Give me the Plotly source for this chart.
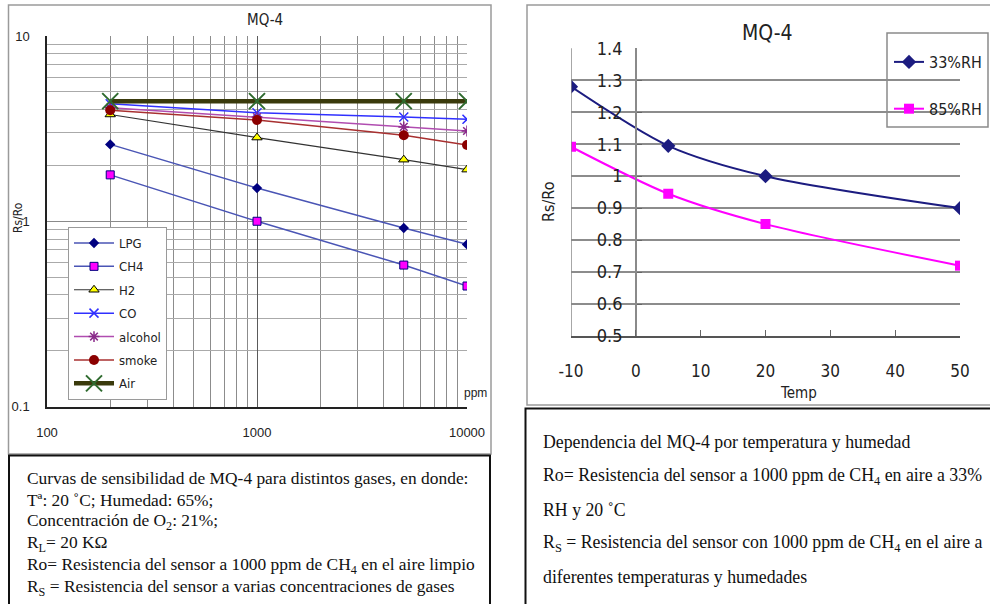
import plotly.graph_objects as go

W, H = 990, 604
def px(x): return x / W
def py(y): return 1 - y / H

# ---------------- Data: left chart (sensitivity) ----------------
ppm = [200, 1000, 5000, 10000]
lpg = [2.6, 1.51, 0.92, 0.75]
ch4 = [1.78, 1.0, 0.58, 0.447]
h2 = [3.77, 2.83, 2.15, 1.90]
co = [4.31, 3.85, 3.65, 3.55]
alcohol = [4.1, 3.65, 3.23, 3.07]
smoke = [3.97, 3.52, 2.91, 2.58]
air = [4.45, 4.45, 4.45, 4.45]
left_xticks = [100, 1000, 10000]
left_xtext = ["100", "1000", "10000"]
left_yticks = [0.1, 1, 10]
left_ytext = ["0.1", "1", "10"]

# ---------------- Data: right chart (temperature / humidity) ----------------
temp = [-10, 5, 20, 50]
rh33 = [1.28, 1.095, 1.0, 0.9]
rh85 = [1.092, 0.945, 0.85, 0.72]
right_xticks = [-10, 0, 10, 20, 30, 40, 50]
right_xtext = ["-10", "0", "10", "20", "30", "40", "50"]
right_yticks = [0.5, 0.6, 0.7, 0.8, 0.9, 1.0, 1.1, 1.2, 1.3, 1.4]
right_ytext = ["0.5", "0.6", "0.7", "0.8", "0.9", "1", "1.1", "1.2", "1.3", "1.4"]

left_caption = [
    "Curvas de sensibilidad de MQ-4 para distintos gases, en donde:",
    "Tª: 20 ˚C; Humedad: 65%;",
    "Concentración de O<sub>2</sub>: 21%;",
    "R<sub>L</sub>= 20 KΩ",
    "Ro= Resistencia del sensor a 1000 ppm de CH<sub>4</sub> en el aire limpio",
    "R<sub>S</sub> = Resistencia del sensor a varias concentraciones de gases",
]
right_caption = [
    "Dependencia del MQ-4 por temperatura y humedad",
    "Ro= Resistencia del sensor a 1000 ppm de CH<sub>4</sub> en aire a 33%",
    "RH y 20 ˚C",
    "R<sub>S</sub> = Resistencia del sensor con 1000 ppm de CH<sub>4</sub> en el aire a",
    "diferentes temperaturas y humedades",
]

NARROW = "DejaVu Sans Condensed, Liberation Sans, Arial"
SANS = "Liberation Sans, Arial"
SERIF = "Liberation Serif, Times New Roman, DejaVu Serif, serif"

fig = go.Figure()

left_series = [
    ("LPG", lpg, "#4a55b5", 1.5, dict(symbol="diamond", size=8, color="#000080", line=dict(width=0))),
    ("CH4", ch4, "#4a55b5", 1.5, dict(symbol="square", size=8, color="#ff00ff", line=dict(width=1, color="#000080"))),
    ("H2", h2, "#333333", 1.2, dict(symbol="triangle-up", size=9, color="#ffff00", line=dict(width=1, color="#000000"))),
    ("CO", co, "#3030ff", 1.5, dict(symbol="x-thin-open", size=9, color="#3030ff", line=dict(width=1.5, color="#3030ff"))),
    ("alcohol", alcohol, "#b04cb0", 1.5, dict(symbol="asterisk-open", size=9, color="#8a2a8a", line=dict(width=1.5, color="#8a2a8a"))),
    ("smoke", smoke, "#a83030", 1.5, dict(symbol="circle", size=10, color="#8b0000", line=dict(width=0))),
    ("Air", air, "#3a3a0c", 4.5, dict(symbol="x-thin-open", size=16, color="#2f6b2f", line=dict(width=2, color="#2f6b2f"))),
]
for i, (name, ys, col, w, mk) in enumerate(left_series):
    fig.add_trace(go.Scatter(
        x=ppm, y=ys, name=name, mode="lines+markers",
        line=dict(color=col, width=w), marker=mk,
        xaxis="x", yaxis="y", legend="legend", legendgroup="g%d" % i,
    ))

fig.add_trace(go.Scatter(
    x=temp, y=rh33, name="33%RH", mode="lines+markers",
    line=dict(color="#1c1c80", width=2, shape="spline", smoothing=0.8),
    marker=dict(symbol="diamond", size=11, color="#1c1c80"),
    xaxis="x2", yaxis="y2", legend="legend2", legendgroup="r1",
))
fig.add_trace(go.Scatter(
    x=temp, y=rh85, name="85%RH", mode="lines+markers",
    line=dict(color="#ff00ff", width=2, shape="spline", smoothing=0.8),
    marker=dict(symbol="square", size=10, color="#ff00ff"),
    xaxis="x2", yaxis="y2", legend="legend2", legendgroup="r2",
))

shapes = [
    dict(type="rect", xref="paper", yref="paper", x0=px(8.5), x1=px(491), y0=py(454), y1=py(5),
         line=dict(color="#9a9a9a", width=1.5)),
    dict(type="rect", xref="paper", yref="paper", x0=px(9), x1=px(490), y0=py(610), y1=py(455.5),
         line=dict(color="#111111", width=2)),
    dict(type="rect", xref="paper", yref="paper", x0=px(527), x1=px(1000), y0=py(405), y1=py(5),
         line=dict(color="#9a9a9a", width=1.5)),
    dict(type="rect", xref="paper", yref="paper", x0=px(525.5), x1=px(1000), y0=py(610), y1=py(408.5),
         line=dict(color="#111111", width=2)),
    dict(type="rect", xref="paper", yref="paper", x0=px(887), x1=px(988), y0=py(127), y1=py(33),
         line=dict(color="#8a8a8a", width=1.5), fillcolor="white", layer="below"),
    dict(type="line", xref="x2", yref="y2 domain", x0=-10, x1=-10, y0=0, y1=1,
         line=dict(color="#8a8a8a", width=1.5)),
]

annotations = [
    dict(text="MQ-4", x=px(265), y=py(20), font=dict(family=NARROW, size=15, color="#222")),
    dict(text="Rs/Ro", x=px(18), y=py(218), textangle=-90, font=dict(family=NARROW, size=12, color="#222")),
    dict(text="ppm", x=px(475), y=py(393), font=dict(family=SANS, size=12, color="#222")),
    dict(text="MQ-4", x=px(767), y=py(33), font=dict(family=NARROW, size=21, color="#222")),
    dict(text="Rs/Ro", x=px(548), y=py(202), textangle=-90, font=dict(family=NARROW, size=16, color="#222")),
    dict(text="Temp", x=px(798), y=py(393), font=dict(family=NARROW, size=15, color="#222")),
]
for a in annotations:
    a.update(xref="paper", yref="paper", showarrow=False, xanchor="center", yanchor="middle")

left_line_y = [478, 500, 521.5, 543, 565, 587]
for txt, yy in zip(left_caption, left_line_y):
    annotations.append(dict(text=txt, xref="paper", yref="paper", x=px(25), y=py(yy),
                            xanchor="left", yanchor="middle", showarrow=False,
                            font=dict(family=SERIF, size=17.4, color="#111")))
right_line_y = [442, 476, 510, 543, 577]
for txt, yy in zip(right_caption, right_line_y):
    annotations.append(dict(text=txt, xref="paper", yref="paper", x=px(541), y=py(yy),
                            xanchor="left", yanchor="middle", showarrow=False,
                            font=dict(family=SERIF, size=17.8, color="#111")))

fig.update_layout(
    width=W, height=H,
    margin=dict(l=0, r=0, t=0, b=0, pad=0, autoexpand=False),
    paper_bgcolor="white", plot_bgcolor="white",
    shapes=shapes, annotations=annotations,
    xaxis=dict(
        type="log", domain=[px(47), px(467)], range=[2, 4], anchor="y",
        tickvals=left_xticks, ticktext=left_xtext, ticks="",
        tickfont=dict(family=SANS, size=13, color="#222"),
        ticklabelstandoff=13,
        showgrid=True, gridcolor="#5a5a5a", gridwidth=1,
        minor=dict(dtick="D1", showgrid=True, gridcolor="#8c8c8c", gridwidth=1, ticks=""),
        showline=True, linecolor="#222", linewidth=1.5, zeroline=False, fixedrange=True,
    ),
    yaxis=dict(
        type="log", domain=[py(406.5), py(36)], range=[-1, 1], anchor="x",
        tickvals=left_yticks, ticktext=left_ytext, ticks="",
        tickfont=dict(family=SANS, size=13, color="#222"),
        ticklabelstandoff=13,
        showgrid=True, gridcolor="#8a8a8a", gridwidth=1,
        minor=dict(dtick="D1", showgrid=True, gridcolor="#aaaaaa", gridwidth=1, ticks=""),
        showline=True, linecolor="#222", linewidth=1.5, zeroline=False, fixedrange=True,
    ),
    xaxis2=dict(
        domain=[px(571), px(960)], range=[-10, 50], anchor="y2",
        tickvals=right_xticks, ticktext=right_xtext, ticks="inside", ticklen=6, tickcolor="#666",
        tickfont=dict(family=NARROW, size=17, color="#222"),
        ticklabelstandoff=19,
        showgrid=False, showline=True, linecolor="#555", linewidth=1.5,
        zeroline=False, fixedrange=True,
    ),
    yaxis2=dict(
        domain=[py(336), py(48.3)], range=[0.5, 1.4], anchor="free", position=px(635.8),
        tickvals=right_yticks, ticktext=right_ytext, ticks="inside", ticklen=5, tickcolor="#666",
        tickfont=dict(family=NARROW, size=18, color="#222"),
        ticklabelstandoff=9,
        showgrid=True, gridcolor="#8c8c8c", gridwidth=1.5,
        showline=True, linecolor="#8a8a8a", linewidth=1.5, zeroline=False, fixedrange=True,
    ),
    legend=dict(
        x=px(68), y=py(227), xanchor="left", yanchor="top",
        bgcolor="white", bordercolor="#9a9a9a", borderwidth=1,
        font=dict(family=NARROW, size=13, color="#222"),
        tracegroupgap=3.5, itemwidth=40,
    ),
    legend2=dict(
        x=px(889), y=py(45), xanchor="left", yanchor="top",
        bgcolor="rgba(0,0,0,0)", borderwidth=0,
        font=dict(family=NARROW, size=16, color="#222"),
        tracegroupgap=23, itemwidth=30,
    ),
    showlegend=True,
)

fig.write_html("out.html")
